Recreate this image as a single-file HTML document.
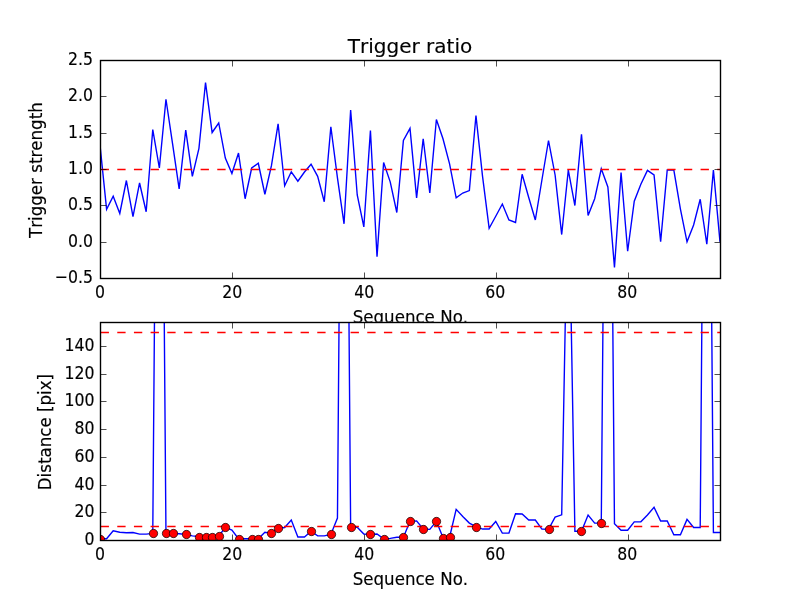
<!DOCTYPE html>
<html><head><meta charset="utf-8"><title>Trigger ratio</title>
<style>
html,body{margin:0;padding:0;background:#fff;}
body{width:800px;height:600px;overflow:hidden;}
svg{display:block;}
text{font-family:"DejaVu Sans","Liberation Sans",sans-serif;fill:#000;font-kerning:none;stroke:#000;stroke-width:0.15px;}
.tk{font-size:16.667px;}
.ti{font-size:20.000px;}
.sp{fill:none;stroke:#000;stroke-width:1.389;stroke-linecap:square;stroke-linejoin:miter;}
.tick{stroke:#000;stroke-width:0.694;fill:none;}
.bl{fill:none;stroke:#00f;stroke-width:1.389;stroke-linejoin:miter;stroke-miterlimit:4;stroke-linecap:butt;}
.rd{fill:none;stroke:#f00;stroke-width:1.389;stroke-dasharray:8.333 8.333;stroke-dashoffset:-0.6;}
.mk{fill:#f00;stroke:#000;stroke-width:0.694;}
</style></head>
<body>
<svg width="800" height="600" viewBox="0 0 800 600">
<rect x="0" y="0" width="800" height="600" fill="#fff"/>
<defs><clipPath id="c1"><rect x="100" y="60" width="620" height="218"/></clipPath><clipPath id="c2"><rect x="100" y="322" width="620" height="218"/></clipPath></defs>
<g id="lab1">
<text class="ti" text-anchor="middle" transform="translate(410,53.4) scale(1.0,1.0)">Trigger ratio</text>
<text class="tk" text-anchor="middle" transform="translate(410.4,323) scale(1,1.1)">Sequence No.</text>
<text class="tk" text-anchor="middle" transform="translate(42,170.09) rotate(-90) scale(1,1.1)">Trigger strength</text>
</g>
<g id="ax1">
<rect x="100" y="60" width="620" height="218.18" fill="#fff"/>
<g clip-path="url(#c1)"><polyline class="bl" points="100,145.09 106.6,209.24 113.19,196.22 119.79,213.45 126.38,180.51 132.98,216.51 139.57,182.98 146.17,211.78 152.77,129.53 159.36,168 165.96,99.27 172.55,143.64 179.15,188.95 185.74,130.04 192.34,176.36 198.94,148.29 205.53,82.55 212.13,132.51 218.72,122.98 225.32,158.04 231.91,173.45 238.51,153.02 245.11,198.76 251.7,168 258.3,163.27 264.89,194.25 271.49,165.45 278.09,123.78 284.68,185.82 291.28,171.78 297.87,181.24 304.47,172 311.06,164.29 317.66,176.36 324.26,201.75 330.85,126.76 337.45,177.82 344.04,223.78 350.64,109.96 357.23,194.98 363.83,226.98 370.43,130.55 377.02,256.73 383.62,162.55 390.21,181.82 396.81,212.51 403.4,140.51 410,128.36 416.6,197.82 423.19,138.76 429.79,193.02 436.38,119.49 442.98,138.76 449.57,163.78 456.17,197.82 462.77,193.02 469.36,190.55 475.96,115.49 482.55,176.36 489.15,228.29 495.74,216.29 502.34,204 508.94,220 515.53,222.47 522.13,174.25 528.72,197.53 535.32,220 541.91,180 548.51,140.51 555.11,174.98 561.7,234.55 568.3,170.04 574.89,205.53 581.49,134.25 588.09,215.49 594.68,198.76 601.28,168.73 607.87,186.98 614.47,267.49 621.06,172.51 627.66,251.27 634.26,201.24 640.85,184.15 647.45,170.33 654.04,174.98 660.64,241.75 667.23,170.04 673.83,170.04 680.43,209.09 687.02,241.82 693.62,225.02 700.21,199.27 706.81,244.22 713.4,170.04 720,241.82"/>
<line class="rd" x1="100" y1="169.5" x2="720" y2="169.5"/>
</g>
<path class="tick" d="M100.5 278.5v-6M100.5 60.5v6M232.5 278.5v-6M232.5 60.5v6M364.5 278.5v-6M364.5 60.5v6M496.5 278.5v-6M496.5 60.5v6M628.5 278.5v-6M628.5 60.5v6M100.5 278.5h6M720.5 278.5h-6M100.5 242.5h6M720.5 242.5h-6M100.5 205.5h6M720.5 205.5h-6M100.5 169.5h6M720.5 169.5h-6M100.5 133.5h6M720.5 133.5h-6M100.5 96.5h6M720.5 96.5h-6M100.5 60.5h6M720.5 60.5h-6"/>
<rect class="sp" x="100.5" y="60.5" width="620" height="218"/>
<text class="tk" text-anchor="middle" transform="translate(100.03,298) scale(0.943,1.1)">0</text>
<text class="tk" text-anchor="middle" transform="translate(232.15,298) scale(0.943,1.1)">20</text>
<text class="tk" text-anchor="middle" transform="translate(364.15,298) scale(0.943,1.1)">40</text>
<text class="tk" text-anchor="middle" transform="translate(495.15,298) scale(0.943,1.1)">60</text>
<text class="tk" text-anchor="middle" transform="translate(627.15,298) scale(0.943,1.1)">80</text>
<text class="tk" text-anchor="end" transform="translate(92.9,283) scale(0.943,1.1)">−0.5</text>
<text class="tk" text-anchor="end" transform="translate(92.9,247) scale(0.943,1.1)">0.0</text>
<text class="tk" text-anchor="end" transform="translate(92.9,210) scale(0.943,1.1)">0.5</text>
<text class="tk" text-anchor="end" transform="translate(92.9,174) scale(0.943,1.1)">1.0</text>
<text class="tk" text-anchor="end" transform="translate(92.9,138) scale(0.943,1.1)">1.5</text>
<text class="tk" text-anchor="end" transform="translate(92.9,101) scale(0.943,1.1)">2.0</text>
<text class="tk" text-anchor="end" transform="translate(92.9,65) scale(0.943,1.1)">2.5</text>
</g>
<g id="ax2">
<rect x="100" y="321.82" width="620" height="218.18" fill="#fff"/>
<g clip-path="url(#c2)"><polyline class="bl" points="100,538.75 106.6,538.75 113.19,530.86 119.79,532.24 126.38,532.8 132.98,532.52 139.57,534.18 146.17,534.18 152.77,533.49 159.36,-291.17 165.96,533.35 172.55,533.35 179.15,533.77 185.74,534.32 192.34,535.84 198.94,536.54 205.53,537.23 212.13,537.23 218.72,536.26 225.32,527.26 231.91,530.03 238.51,538.75 245.11,538.75 251.7,538.75 258.3,538.75 264.89,532.24 271.49,533.35 278.09,528.23 284.68,527.53 291.28,520.05 297.87,536.95 304.47,536.95 311.06,531.27 317.66,535.84 324.26,535.84 330.85,534.46 337.45,518.11 344.04,-291.17 350.64,527.26 357.23,527.26 363.83,534.04 370.43,534.46 377.02,534.04 383.62,538.75 390.21,538.34 396.81,537.23 403.4,537.23 410,521.3 416.6,520.88 423.19,529.06 429.79,529.33 436.38,521.3 442.98,537.51 449.57,537.23 456.17,509.39 462.77,516.45 469.36,523.1 475.96,526.56 482.55,529.06 489.15,529.06 495.74,521.44 502.34,533.07 508.94,533.07 515.53,513.82 522.13,513.96 528.72,520.05 535.32,520.05 541.91,529.06 548.51,529.33 555.11,517.14 561.7,514.79 568.3,159.05 574.89,531.27 581.49,531.27 588.09,515.06 594.68,523.1 601.28,523.1 607.87,-263.46 614.47,523.79 621.06,530.3 627.66,530.3 634.26,521.85 640.85,521.85 647.45,515.06 654.04,507.31 660.64,521.02 667.23,521.02 673.83,534.74 680.43,534.74 687.02,519.36 693.62,527.53 700.21,527.53 706.81,-291.17 713.4,532.52 720,532.52"/>
<line class="rd" x1="100" y1="526.5" x2="720" y2="526.5"/>
<line class="rd" x1="100" y1="332.5" x2="720" y2="332.5"/>
<circle class="mk" cx="100.5" cy="539.5" r="4.17"/><circle class="mk" cx="153.5" cy="533.5" r="4.17"/><circle class="mk" cx="166.5" cy="533.5" r="4.17"/><circle class="mk" cx="173.5" cy="533.5" r="4.17"/><circle class="mk" cx="186.5" cy="534.5" r="4.17"/><circle class="mk" cx="199.5" cy="537.5" r="4.17"/><circle class="mk" cx="206.5" cy="537.5" r="4.17"/><circle class="mk" cx="212.5" cy="537.5" r="4.17"/><circle class="mk" cx="219.5" cy="536.5" r="4.17"/><circle class="mk" cx="225.5" cy="527.5" r="4.17"/><circle class="mk" cx="239.5" cy="539.5" r="4.17"/><circle class="mk" cx="252.5" cy="539.5" r="4.17"/><circle class="mk" cx="258.5" cy="539.5" r="4.17"/><circle class="mk" cx="271.5" cy="533.5" r="4.17"/><circle class="mk" cx="278.5" cy="528.5" r="4.17"/><circle class="mk" cx="311.5" cy="531.5" r="4.17"/><circle class="mk" cx="331.5" cy="534.5" r="4.17"/><circle class="mk" cx="351.5" cy="527.5" r="4.17"/><circle class="mk" cx="370.5" cy="534.5" r="4.17"/><circle class="mk" cx="384.5" cy="539.5" r="4.17"/><circle class="mk" cx="403.5" cy="537.5" r="4.17"/><circle class="mk" cx="410.5" cy="521.5" r="4.17"/><circle class="mk" cx="423.5" cy="529.5" r="4.17"/><circle class="mk" cx="436.5" cy="521.5" r="4.17"/><circle class="mk" cx="443.5" cy="538.5" r="4.17"/><circle class="mk" cx="450.5" cy="537.5" r="4.17"/><circle class="mk" cx="476.5" cy="527.5" r="4.17"/><circle class="mk" cx="549.5" cy="529.5" r="4.17"/><circle class="mk" cx="581.5" cy="531.5" r="4.17"/><circle class="mk" cx="601.5" cy="523.5" r="4.17"/></g>
<path class="tick" d="M100.5 540.5v-6M100.5 322.5v6M232.5 540.5v-6M232.5 322.5v6M364.5 540.5v-6M364.5 322.5v6M496.5 540.5v-6M496.5 322.5v6M628.5 540.5v-6M628.5 322.5v6M100.5 540.5h6M720.5 540.5h-6M100.5 512.5h6M720.5 512.5h-6M100.5 485.5h6M720.5 485.5h-6M100.5 457.5h6M720.5 457.5h-6M100.5 429.5h6M720.5 429.5h-6M100.5 401.5h6M720.5 401.5h-6M100.5 374.5h6M720.5 374.5h-6M100.5 346.5h6M720.5 346.5h-6"/>
<rect class="sp" x="100.5" y="322.5" width="620" height="218"/>
<text class="tk" text-anchor="middle" transform="translate(100.03,560) scale(0.943,1.1)">0</text>
<text class="tk" text-anchor="middle" transform="translate(232.15,560) scale(0.943,1.1)">20</text>
<text class="tk" text-anchor="middle" transform="translate(364.15,560) scale(0.943,1.1)">40</text>
<text class="tk" text-anchor="middle" transform="translate(495.15,560) scale(0.943,1.1)">60</text>
<text class="tk" text-anchor="middle" transform="translate(627.15,560) scale(0.943,1.1)">80</text>
<text class="tk" text-anchor="end" transform="translate(94.4,545) scale(0.943,1.1)">0</text>
<text class="tk" text-anchor="end" transform="translate(94.4,517) scale(0.943,1.1)">20</text>
<text class="tk" text-anchor="end" transform="translate(94.4,490) scale(0.943,1.1)">40</text>
<text class="tk" text-anchor="end" transform="translate(94.4,462) scale(0.943,1.1)">60</text>
<text class="tk" text-anchor="end" transform="translate(94.4,434) scale(0.943,1.1)">80</text>
<text class="tk" text-anchor="end" transform="translate(94.4,406) scale(0.943,1.1)">100</text>
<text class="tk" text-anchor="end" transform="translate(94.4,379) scale(0.943,1.1)">120</text>
<text class="tk" text-anchor="end" transform="translate(94.4,351) scale(0.943,1.1)">140</text>
</g>
<g id="lab2">
<text class="tk" text-anchor="middle" transform="translate(410.4,585) scale(1,1.1)">Sequence No.</text>
<text class="tk" text-anchor="middle" transform="translate(51,432.11) rotate(-90) scale(1,1.1)">Distance [pix]</text>
</g>
</svg>
</body></html>
